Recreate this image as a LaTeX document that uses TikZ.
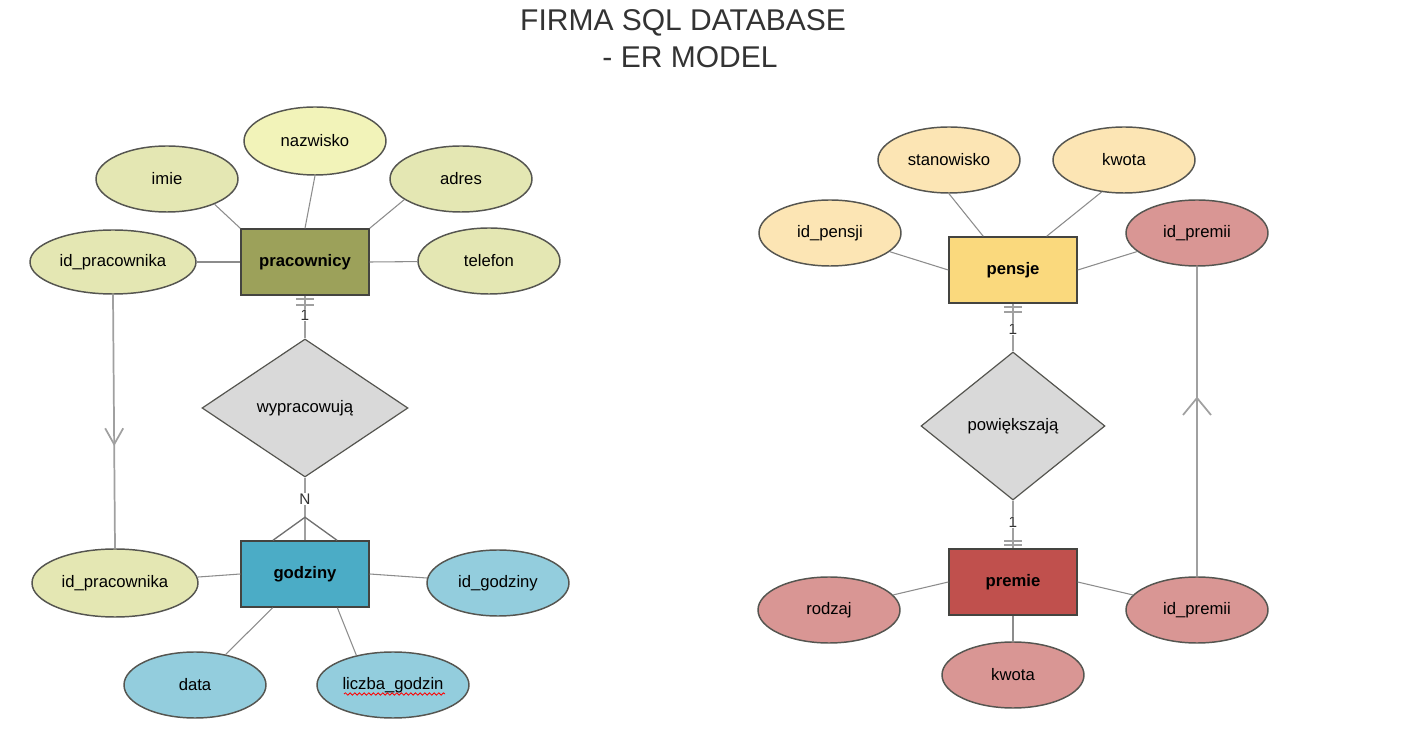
\documentclass[tikz,border=0pt]{standalone}
\usepackage{fontspec}
\setmainfont{Liberation Sans}
\usetikzlibrary{shapes.geometric,calc,decorations.pathmorphing}
\definecolor{olive}{RGB}{156,161,90}
\definecolor{oliveL}{RGB}{228,231,179}
\definecolor{yelL}{RGB}{242,243,185}
\definecolor{blueD}{RGB}{75,172,198}
\definecolor{blueL}{RGB}{147,205,221}
\definecolor{orangeD}{RGB}{250,217,125}
\definecolor{orangeL}{RGB}{252,229,180}
\definecolor{redD}{RGB}{192,80,77}
\definecolor{redL}{RGB}{217,150,148}
\definecolor{diamF}{RGB}{217,217,217}
\definecolor{edgeC}{RGB}{85,85,80}
\definecolor{lineC}{RGB}{140,140,140}
\definecolor{relC}{RGB}{160,160,160}
\definecolor{txtC}{RGB}{51,51,51}
\tikzset{
  attr/.style 2 args={ellipse, draw=edgeC, line width=1.1pt, inner sep=0pt,
    minimum width=#1*0.75pt, minimum height=#2*0.75pt, font=\fontsize{12.5}{14}\selectfont},
  ent/.style={rectangle, draw=edgeC!80!black, line width=1.1pt, inner sep=0pt,
    minimum width=128*0.75pt, minimum height=66*0.75pt, font=\fontsize{12.5}{14}\selectfont\bfseries},
  rel/.style={diamond, draw=edgeC, line width=0.9pt, fill=diamF, inner sep=0pt,
    font=\fontsize{12.5}{14}\selectfont},
  aline/.style={draw=lineC, line width=0.8pt},
  rline/.style={draw=relC, line width=1.3pt},
  card/.style={font=\fontsize{11.5}{13}\selectfont, text=txtC, fill=white, inner sep=0.5pt},
  ttl/.style={font=\fontsize{22.5}{26}\selectfont, text=txtC}
}
\begin{document}
\begin{tikzpicture}[x=0.75pt,y=-0.75pt]
\useasboundingbox (0,0) rectangle (1415,730);
% title
\node[ttl] (t1) at (683,23) {FIRMA SQL DATABASE};
\node[ttl] (t2) at (690,57) {- ER MODEL};

% ---------- left ----------
\node[ent, fill=olive] (prac) at (305,262) {pracownicy};
\node[attr={142}{66}, fill=oliveL] (imie) at (167,179) {imie};
\node[attr={142}{68}, fill=yelL] (nazw) at (315,141) {nazwisko};
\node[attr={142}{66}, fill=oliveL] (adres) at (461,179) {adres};
\node[attr={166}{64}, fill=oliveL] (idp1) at (113,262) {id\_pracownika};
\node[attr={142}{66}, fill=oliveL] (tel) at (489,261) {telefon};
\draw[aline] (imie.-28) -- (prac.north west);
\draw[aline] (nazw.south) -- (prac.north);
\draw[aline] (adres.200) -- (prac.north east);
\draw[aline] (idp1) -- (prac.west);
\draw[aline] (tel) -- (prac.east);

\node[rel, minimum width=206*0.75pt, minimum height=138*0.75pt] (wyp) at (305,408) {wypracowują};

\node[ent, fill=blueD] (godz) at (305,574) {godziny};
\node[attr={166}{68}, fill=oliveL] (idp2) at (115,583) {id\_pracownika};
\node[attr={142}{66}, fill=blueL] (idg) at (498,583) {id\_godziny};
\node[attr={142}{66}, fill=blueL] (data) at (195,685) {data};
\node[attr={152}{66}, fill=blueL] (licz) at (393,685) {liczba\_godzin};
\draw[red, line width=0.6pt, decorate, decoration={snake, amplitude=0.9pt, segment length=3.5pt}] (344,694) -- (445,694);
\draw[aline] (idp2) -- (godz.west);
\draw[aline] (idg) -- (godz.east);
\draw[aline] (data) -- ($(godz.south west)!0.25!(godz.south east)$);
\draw[aline] (licz.141) -- ($(godz.south west)!0.75!(godz.south east)$);

% prac -- wyp (1)
\draw[rline] (prac.south) -- (wyp.north);
\draw[rline] ($(prac.south)+(-9,3)$) -- ++(18,0);
\draw[rline] ($(prac.south)+(-9,9)$) -- ++(18,0);
\node[card] (c1) at (305,315) {1};
% wyp -- godz (N)
\draw[rline] (wyp.south) -- (godz.north);
\node[card] (cN) at (305,499) {N};
\coordinate (cf) at ($(godz.north)+(0,-23)$);
\draw[draw=lineC!80!black, line width=1pt] ($(godz.north)+(-32,0)$) -- (cf) -- ($(godz.north)+(32,0)$);

% id_pracownika link
\draw[rline] (idp1.south) -- (idp2.north);
\coordinate (a1) at ($(idp1.south)!0.59!(idp2.north)$);
\draw[rline] ($(a1)+(-9,-16)$) -- (a1) -- ($(a1)+(9,-16)$);

% ---------- right ----------
\node[ent, fill=orangeD] (pens) at (1013,270) {pensje};
\node[attr={142}{66}, fill=orangeL] (stan) at (949,160) {stanowisko};
\node[attr={142}{66}, fill=orangeL] (kw1) at (1124,160) {kwota};
\node[attr={142}{66}, fill=orangeL] (idps) at (830,233) {id\_pensji};
\node[attr={142}{66}, fill=redL] (idpr1) at (1197,233) {id\_premii};
\draw[aline] (stan.south) -- ($(pens.north west)!0.27!(pens.north east)$);
\draw[aline] (kw1.235) -- ($(pens.north west)!0.76!(pens.north east)$);
\draw[aline] (idps) -- (pens.west);
\draw[aline] (idpr1) -- (pens.east);

\node[rel, minimum width=184*0.75pt, minimum height=148*0.75pt] (pow) at (1013,426) {powiększają};

\node[ent, fill=redD] (prem) at (1013,582) {premie};
\node[attr={142}{66}, fill=redL] (rodz) at (829,610) {rodzaj};
\node[attr={142}{66}, fill=redL] (kw2) at (1013,675) {kwota};
\node[attr={142}{66}, fill=redL] (idpr2) at (1197,610) {id\_premii};
\draw[aline] (rodz) -- (prem.west);
\draw[aline] (kw2) -- (prem.south);
\draw[aline] (idpr2) -- (prem.east);

\draw[rline] (pens.south) -- (pow.north);
\draw[rline] ($(pens.south)+(-9,3)$) -- ++(18,0);
\draw[rline] ($(pens.south)+(-9,8)$) -- ++(18,0);
\node[card] (c2) at (1013,329) {1};
\draw[rline] (pow.south) -- (prem.north);
\draw[rline] ($(prem.north)+(-9,-7)$) -- ++(18,0);
\draw[rline] ($(prem.north)+(-9,-3)$) -- ++(18,0);
\node[card] (c3) at (1013,522) {1};

\draw[rline] (idpr2.north) -- (idpr1.south);
\coordinate (a2) at (1197,398);
\draw[rline] ($(a2)+(-14,17)$) -- (a2) -- ($(a2)+(14,17)$);
\end{tikzpicture}
\end{document}
